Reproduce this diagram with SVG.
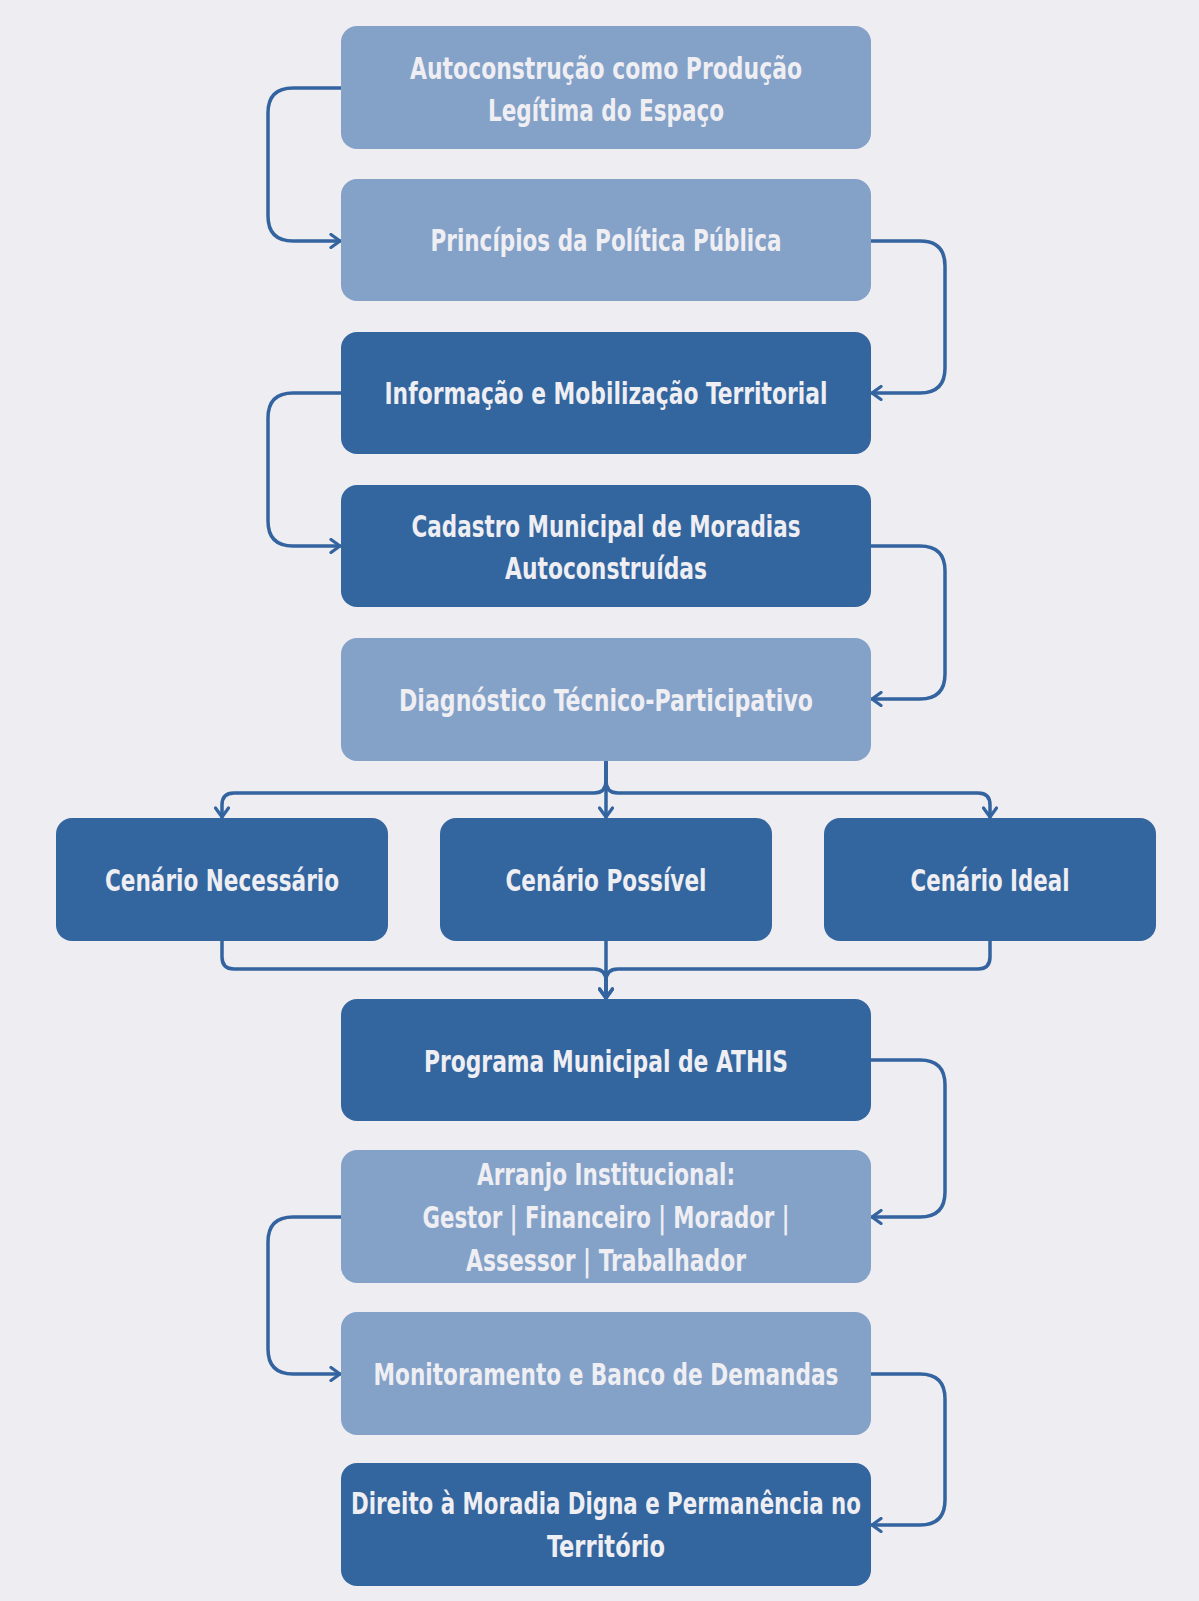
<svg xmlns="http://www.w3.org/2000/svg" width="1199" height="1601" viewBox="0 0 1199 1601">
  <style>
    .light { fill: #84A1C8; }
    .dark { fill: #33659E; }
    .label { font-family: "DejaVu Sans Condensed", "DejaVu Sans", sans-serif; font-weight: bold; font-size: 30px; fill: #EEEEF3; text-anchor: middle; }
    .conn { fill: none; stroke: #3464A0; stroke-width: 3.5; stroke-linecap: round; stroke-linejoin: round; }
  </style>
  <defs>
    <marker id="arrow" viewBox="0 0 14 16" refX="12" refY="8" markerWidth="14" markerHeight="16" markerUnits="userSpaceOnUse" orient="auto">
      <path d="M3,1.5 L12,8 L3,14.5" fill="none" stroke="#3464A0" stroke-width="3.2" stroke-linecap="round" stroke-linejoin="round"/>
    </marker>
  </defs>
  <rect width="1199" height="1601" fill="#EDEDF2"/>

  <g id="connectors">
    <!-- vertical chain: alternating side loops -->
    <path class="conn" marker-end="url(#arrow)" d="M341,88 H293 Q268,88 268,113 V216 Q268,241 293,241 H340"/>
    <path class="conn" marker-end="url(#arrow)" d="M871,241 H920 Q945,241 945,266 V368 Q945,393 920,393 H872"/>
    <path class="conn" marker-end="url(#arrow)" d="M341,393 H293 Q268,393 268,418 V521 Q268,546 293,546 H340"/>
    <path class="conn" marker-end="url(#arrow)" d="M871,546 H920 Q945,546 945,571 V674 Q945,699 920,699 H872"/>
    <!-- branching to scenarios -->
    <path class="conn" marker-end="url(#arrow)" d="M606,761 V817"/>
    <path class="conn" marker-end="url(#arrow)" d="M606,761 V781 Q606,793 594,793 H234 Q222,793 222,805 V817"/>
    <path class="conn" marker-end="url(#arrow)" d="M606,761 V781 Q606,793 618,793 H978 Q990,793 990,805 V817"/>
    <!-- merging into the programme -->
    <path class="conn" marker-end="url(#arrow)" d="M606,941 V998"/>
    <path class="conn" marker-end="url(#arrow)" d="M222,941 V957 Q222,969 234,969 H594 Q606,969 606,981 V998"/>
    <path class="conn" marker-end="url(#arrow)" d="M990,941 V957 Q990,969 978,969 H618 Q606,969 606,981 V998"/>
    <!-- lower chain -->
    <path class="conn" marker-end="url(#arrow)" d="M871,1060 H920 Q945,1060 945,1085 V1192 Q945,1217 920,1217 H872"/>
    <path class="conn" marker-end="url(#arrow)" d="M341,1217 H293 Q268,1217 268,1242 V1349 Q268,1374 293,1374 H340"/>
    <path class="conn" marker-end="url(#arrow)" d="M871,1374 H920 Q945,1374 945,1399 V1500 Q945,1525 920,1525 H872"/>
  </g>

  <g id="autoconstrucao">
    <rect class="light" x="341" y="26" width="530" height="123" rx="16"/>
    <text class="label" x="606" y="79" textLength="392" lengthAdjust="spacingAndGlyphs">Autoconstrução como Produção</text>
    <text class="label" x="606" y="121" textLength="236" lengthAdjust="spacingAndGlyphs">Legítima do Espaço</text>
  </g>
  <g id="principios">
    <rect class="light" x="341" y="179" width="530" height="122" rx="16"/>
    <text class="label" x="606" y="251" textLength="351" lengthAdjust="spacingAndGlyphs">Princípios da Política Pública</text>
  </g>
  <g id="informacao">
    <rect class="dark" x="341" y="332" width="530" height="122" rx="16"/>
    <text class="label" x="606" y="404" textLength="443" lengthAdjust="spacingAndGlyphs">Informação e Mobilização Territorial</text>
  </g>
  <g id="cadastro">
    <rect class="dark" x="341" y="485" width="530" height="122" rx="16"/>
    <text class="label" x="606" y="537" textLength="389" lengthAdjust="spacingAndGlyphs">Cadastro Municipal de Moradias</text>
    <text class="label" x="606" y="579" textLength="202" lengthAdjust="spacingAndGlyphs">Autoconstruídas</text>
  </g>
  <g id="diagnostico">
    <rect class="light" x="341" y="638" width="530" height="123" rx="16"/>
    <text class="label" x="606" y="711" textLength="414" lengthAdjust="spacingAndGlyphs">Diagnóstico Técnico-Participativo</text>
  </g>
  <g id="cenario-necessario">
    <rect class="dark" x="56" y="818" width="332" height="123" rx="16"/>
    <text class="label" x="222" y="891" textLength="234" lengthAdjust="spacingAndGlyphs">Cenário Necessário</text>
  </g>
  <g id="cenario-possivel">
    <rect class="dark" x="440" y="818" width="332" height="123" rx="16"/>
    <text class="label" x="606" y="891" textLength="201" lengthAdjust="spacingAndGlyphs">Cenário Possível</text>
  </g>
  <g id="cenario-ideal">
    <rect class="dark" x="824" y="818" width="332" height="123" rx="16"/>
    <text class="label" x="990" y="891" textLength="159" lengthAdjust="spacingAndGlyphs">Cenário Ideal</text>
  </g>
  <g id="programa-athis">
    <rect class="dark" x="341" y="999" width="530" height="122" rx="16"/>
    <text class="label" x="606" y="1072" textLength="364" lengthAdjust="spacingAndGlyphs">Programa Municipal de ATHIS</text>
  </g>
  <g id="arranjo">
    <rect class="light" x="341" y="1150" width="530" height="133" rx="16"/>
    <text class="label" x="606" y="1185" textLength="258" lengthAdjust="spacingAndGlyphs">Arranjo Institucional:</text>
    <text class="label" x="606" y="1228" textLength="367" lengthAdjust="spacingAndGlyphs">Gestor | Financeiro | Morador |</text>
    <text class="label" x="606" y="1271" textLength="280" lengthAdjust="spacingAndGlyphs">Assessor | Trabalhador</text>
  </g>
  <g id="monitoramento">
    <rect class="light" x="341" y="1312" width="530" height="123" rx="16"/>
    <text class="label" x="606" y="1385" textLength="465" lengthAdjust="spacingAndGlyphs">Monitoramento e Banco de Demandas</text>
  </g>
  <g id="direito">
    <rect class="dark" x="341" y="1463" width="530" height="123" rx="16"/>
    <text class="label" x="606" y="1514" textLength="510" lengthAdjust="spacingAndGlyphs">Direito à Moradia Digna e Permanência no</text>
    <text class="label" x="606" y="1557" textLength="118" lengthAdjust="spacingAndGlyphs">Território</text>
  </g>
</svg>
